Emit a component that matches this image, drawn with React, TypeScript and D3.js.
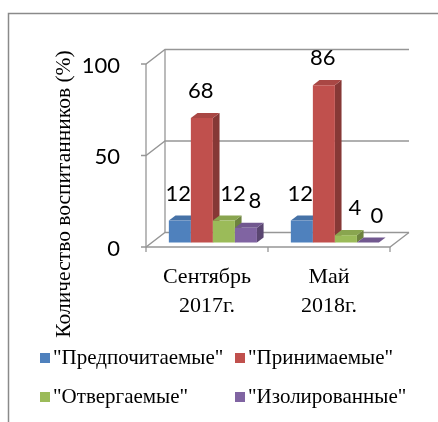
import { useEffect, useRef } from 'react'
import * as d3 from 'd3'

// categories (periods) and series
const categories = ['Сентябрь 2017г.', 'Май 2018г.']
const seriesNames = ['"Предпочитаемые"', '"Принимаемые"', '"Отвергаемые"', '"Изолированные"']
const seriesColors = ['#4f81bd', '#c0504d', '#9bbb59', '#8064a2']
const sep2017 = [12, 68, 12, 8]
const may2018 = [12, 86, 4, 0]
const yTicks = [0, 50, 100]
// small horizontal nudge Excel gave the labels, per series
const labelNudge = [-1.5, -1, 9, 9]

const serif = '"Liberation Serif"'

export default function App() {
  const ref = useRef<SVGSVGElement>(null)

  useEffect(() => {
    const width = 438
    const height = 422
    const depth = { dx: 19, dy: -14.5 } // back wall offset
    const barFront = 0.31
    const barBack = 0.66
    const grid = '#969696'

    const values = [sep2017, may2018]

    const svg = d3.select(ref.current)
      .attr('width', width)
      .attr('height', height)
      .attr('viewBox', [0, 0, width, height])
    svg.selectAll('*').remove()

    const x0 = d3.scaleBand<string>().domain(categories).range([146, 390])
    const x1 = d3.scaleBand<number>()
      .domain(d3.range(seriesNames.length))
      .range([0, x0.bandwidth()])
      .paddingInner(0)
      .paddingOuter(0.77)
    const y = d3.scaleLinear().domain([0, 100]).range([247, 64])

    // project a point on the front plane back by a fraction of the depth
    const P = (xf: number, v: number, f: number): [number, number] =>
      [xf + f * depth.dx, y(v) + f * depth.dy]
    const poly = (pts: [number, number][]) => pts.map(p => p.join(',')).join(' ')

    // outer frame (cut off by the picture)
    svg.append('rect')
      .attr('x', 8.5).attr('y', 13.5)
      .attr('width', 600).attr('height', 600)
      .attr('fill', 'none')
      .attr('stroke', '#8a8a8a')
      .attr('stroke-width', 1.5)

    const [xa, xb] = x0.range()
    const walls = svg.append('g')
      .attr('fill', 'none')
      .attr('stroke', grid)
      .attr('stroke-width', 1.3)

    // back wall grid lines and connectors to the front axis
    yTicks.forEach(t => {
      walls.append('polyline')
        .attr('points', poly([P(xa - 5, t, 0), P(xa, t, 0), P(xa, t, 1), P(xb, t, 1)]))
    })
    // back wall left edge, front axis
    walls.append('line')
      .attr('x1', P(xa, 0, 1)[0]).attr('y1', P(xa, 0, 1)[1])
      .attr('x2', P(xa, 100, 1)[0]).attr('y2', P(xa, 100, 1)[1])
    walls.append('line')
      .attr('x1', xa).attr('y1', y(0))
      .attr('x2', xa).attr('y2', y(100))
    // floor front edge and right edge
    walls.append('polyline')
      .attr('points', poly([P(xa, 0, 0), P(xb, 0, 0), P(xb, 0, 1)]))
    // category ticks
    ;[xa, ...categories.map(c => (x0(c) as number) + x0.bandwidth())].forEach(tx => {
      walls.append('line')
        .attr('x1', tx).attr('y1', y(0))
        .attr('x2', tx).attr('y2', y(0) + 5)
    })

    // y tick labels
    svg.append('g')
      .selectAll('text')
      .data(yTicks)
      .join('text')
      .attr('font-family', 'Lato')
      .attr('font-size', 22)
      .attr('text-anchor', 'end')
      .attr('x', 120)
      .attr('y', d => y(d) + 1)
      .attr('dy', '0.35em')
      .text(d => d)

    // bars
    const bars = svg.append('g')
    const labels: { x: number, y: number, v: number }[] = []
    categories.forEach((c, ci) => {
      values[ci].forEach((v, si) => {
        const xl = (x0(c) as number) + (x1(si) as number)
        const xr = xl + x1.bandwidth()
        const base = seriesColors[si]
        bars.append('polygon')
          .attr('fill', d3.color(base)!.darker(1).formatHex())
          .attr('points', poly([P(xr, 0, barFront), P(xr, 0, barBack), P(xr, v, barBack), P(xr, v, barFront)]))
        bars.append('polygon')
          .attr('fill', d3.color(base)!.darker(0.35).formatHex())
          .attr('points', poly([P(xl, v, barFront), P(xr, v, barFront), P(xr, v, barBack), P(xl, v, barBack)]))
        bars.append('polygon')
          .attr('fill', base)
          .attr('points', poly([P(xl, 0, barFront), P(xr, 0, barFront), P(xr, v, barFront), P(xl, v, barFront)]))
        const top = P((xl + xr) / 2, v, barFront)
        labels.push({ x: top[0] + labelNudge[si], y: top[1] - 20, v })
      })
    })

    // value labels
    svg.append('g')
      .selectAll('text')
      .data(labels)
      .join('text')
      .attr('font-family', 'Lato')
      .attr('font-size', 22)
      .attr('text-anchor', 'middle')
      .attr('x', d => d.x)
      .attr('y', d => d.y)
      .text(d => d.v)

    // category labels, two lines each
    categories.forEach(c => {
      const cx = (x0(c) as number) + x0.bandwidth() / 2
      c.split(' ').forEach((line, i) => {
        svg.append('text')
          .attr('font-family', serif)
          .attr('font-size', 22)
          .attr('text-anchor', 'middle')
          .attr('x', cx)
          .attr('y', 283 + i * 29)
          .text(line)
      })
    })

    // y axis title
    svg.append('text')
      .attr('transform', 'translate(70,194) rotate(-90)')
      .attr('font-family', serif)
      .attr('font-size', 21.5)
      .attr('text-anchor', 'middle')
      .text('Количество воспитанников (%)')

    // legend, two columns
    seriesNames.forEach((name, i) => {
      const lx = i % 2 === 0 ? 40 : 235
      const ly = Math.floor(i / 2) === 0 ? 364 : 403
      svg.append('rect')
        .attr('x', lx).attr('y', ly - 11)
        .attr('width', 10).attr('height', 10)
        .attr('fill', seriesColors[i])
      svg.append('text')
        .attr('font-family', serif)
        .attr('font-size', 21)
        .attr('x', lx + 13)
        .attr('y', ly)
        .text(name)
    })
  }, [])

  return <svg ref={ref} style={{ position: 'fixed', left: 0, top: 0 }} />
}
